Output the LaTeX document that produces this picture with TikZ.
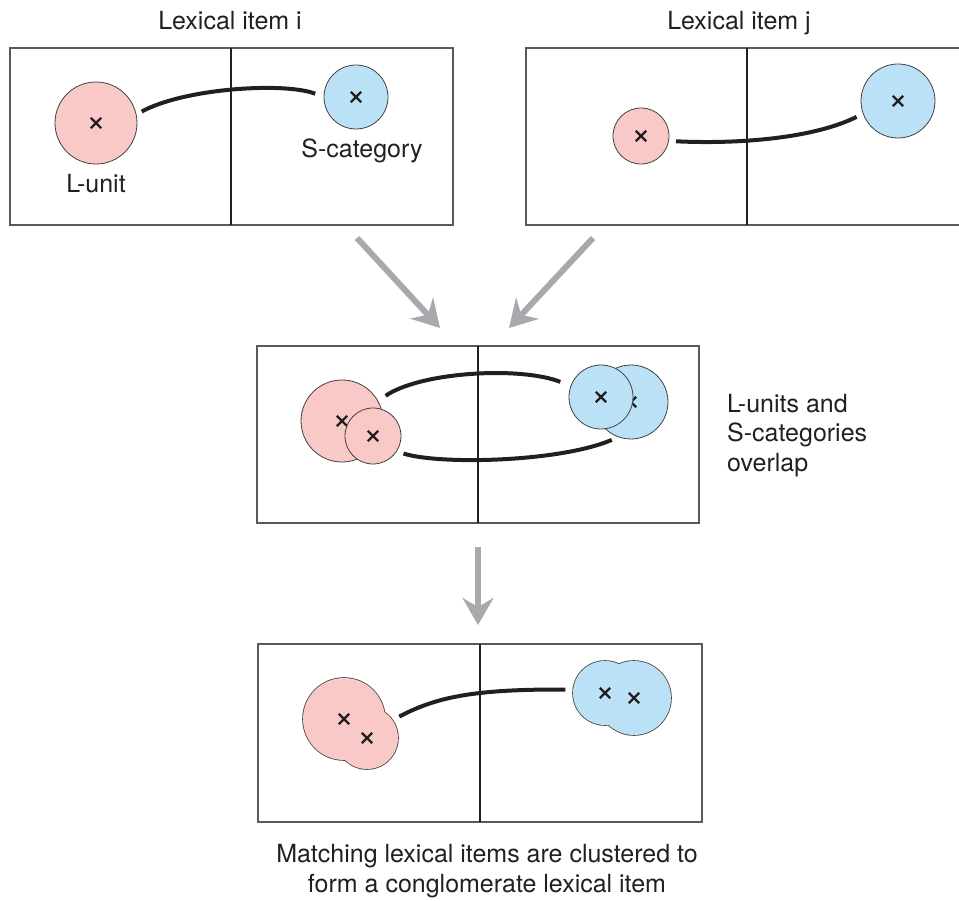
\documentclass[tikz,border=0pt]{standalone}
\usepackage{fontspec}
\setmainfont{TeX Gyre Heros}
\usetikzlibrary{arrows.meta,shapes.misc}
\definecolor{lpink}{HTML}{F8C9C7}
\definecolor{sblue}{HTML}{BAE1F5}
\definecolor{flowgray}{HTML}{A7A9AC}
\definecolor{ink}{HTML}{231F20}
\definecolor{frame}{HTML}{58595B}
\begin{document}
\begin{tikzpicture}[x=1pt,y=-1pt,
  txt/.style={font=\fontsize{25}{29.5}\selectfont, text=ink, inner sep=0pt},
  panel/.style={draw=frame, line width=1.2pt},
  divider/.style={draw=ink, line width=1.5pt},
  blob/.style={circle, draw=ink!85, line width=0.8pt, inner sep=0pt},
  lunit/.style={blob, fill=lpink},
  scat/.style={blob, fill=sblue},
  merged/.style={line width=1.6pt},
  centre/.style={cross out, draw=ink, line width=2.4pt, minimum size=8pt, inner sep=0pt},
  link/.style={draw=ink, line width=4pt},
  flow/.style={draw=flowgray, line width=6pt, -{Stealth[length=27pt,width=31pt,inset=9pt]}},
]
\useasboundingbox (0,0) rectangle (959,901);

% ---------- Lexical item i ----------
\node[txt, anchor=base] (ti) at (230,30) {Lexical item i};
\draw[panel] (10,48) rectangle (453,225);
\draw[divider] (231,48) -- (231,225);
\node[lunit, minimum size=82pt] (li) at (96,123) {};
\node[centre] (li-x) at (li) {};
\node[scat, minimum size=64pt] (si) at (356,97) {};
\node[centre] (si-x) at (si) {};
\node[txt, anchor=base] (li-lab) at (96,193) {L-unit};
\node[txt, anchor=base] (si-lab) at (362,158) {S-category};
\draw[link, shorten <=6pt, shorten >=9pt] (li.12) .. controls (185,88) and (285,82) .. (si.180);

% ---------- Lexical item j ----------
\node[txt, anchor=base] (tj) at (739,30) {Lexical item j};
\draw[panel] (965,48) -- (526,48) -- (526,225) -- (965,225);
\draw[divider] (747,48) -- (747,225);
\node[lunit, minimum size=56pt] (lj) at (641,136) {};
\node[centre] (lj-x) at (lj) {};
\node[scat, minimum size=74pt] (sj) at (898,101) {};
\node[centre] (sj-x) at (sj) {};
\draw[link, shorten <=7pt, shorten >=7pt] (lj.-10) .. controls (730,144) and (810,140) .. (sj.200);

% ---------- arrows into the overlap panel ----------
\coordinate (fi) at (357,238);
\coordinate (fj) at (593,238);
\coordinate (mi) at (440,328);
\coordinate (mj) at (509,328);
\draw[flow] (fi) -- (mi);
\draw[flow] (fj) -- (mj);

% ---------- overlap panel ----------
\draw[panel] (257,346) rectangle (699,523);
\draw[divider] (478,346) -- (478,523);
\node[lunit, minimum size=82pt] (lm1) at (342,421) {};
\node[centre] (lm1-x) at (lm1) {};
\node[lunit, minimum size=56pt] (lm2) at (373,436) {};
\node[centre] (lm2-x) at (lm2) {};
\node[scat, minimum size=74pt] (sm2) at (631,402) {};
\node[centre] (sm2-x) at (sm2) {};
\node[scat, minimum size=64pt] (sm1) at (601,397) {};
\node[centre] (sm1-x) at (sm1) {};
\draw[link, shorten <=9pt, shorten >=11pt] (lm1.29) .. controls (420,372) and (520,366) .. (sm1.160);
\draw[link, shorten <=7pt, shorten >=7pt] (lm2.-33) .. controls (440,465) and (560,462) .. (sm2.250);
% a multi-line node's base is its last line
\node[txt, anchor=base west, align=left] (olap) at (727,471) {L-units and\\S-categories\\overlap};

% ---------- arrow into the cluster panel ----------
\coordinate (fm) at (478,547);
\coordinate (mb) at (478,625);
\draw[flow] (fm) -- (mb);

% ---------- cluster panel ----------
\draw[panel] (258,644) rectangle (702,822);
\draw[divider] (480,644) -- (480,822);
% outlines drawn double width, then the fills hide the inner arcs
\node[lunit, merged, minimum size=82pt] (lb1) at (344,719) {};
\node[lunit, merged, minimum size=62pt] (lb2) at (367,738) {};
\fill[lpink] (lb1.center) circle[radius=41];
\fill[lpink] (lb2.center) circle[radius=31];
\node[scat, merged, minimum size=64pt] (sb1) at (605,693) {};
\node[scat, merged, minimum size=74pt] (sb2) at (634,698) {};
\fill[sblue] (sb1.center) circle[radius=32];
\fill[sblue] (sb2.center) circle[radius=37];
\node[centre] (lb1-x) at (lb1) {};
\node[centre] (lb2-x) at (lb2) {};
\node[centre] (sb1-x) at (sb1) {};
\node[centre] (sb2-x) at (sb2) {};
\draw[link, shorten <=7pt, shorten >=7pt] (lb2.35) .. controls (435,698) and (470,689) .. (sb1.174);

\node[txt, anchor=base, align=center] (cap) at (487,892) {Matching lexical items are clustered to\\form a conglomerate lexical item};
\end{tikzpicture}
\end{document}
